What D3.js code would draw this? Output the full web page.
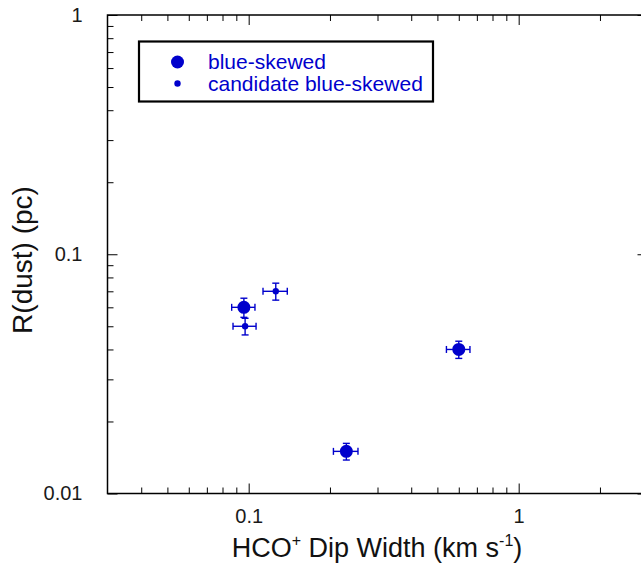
<!DOCTYPE html>
<html><head><meta charset="utf-8">
<script src="https://cdn.jsdelivr.net/npm/d3@7"></script>
<style>
html,body{margin:0;padding:0;background:#fff;}
svg{display:block;font-family:Arial,"Liberation Sans",sans-serif;}
</style></head>
<body>
<svg id="chart" width="641" height="574"></svg>
<script>
// ---- data ----
const sourceKind = ["blue-skewed","blue-skewed","blue-skewed","candidate blue-skewed","candidate blue-skewed"];
const dipWidth   = [0.096, 0.23, 0.60, 0.097, 0.126];   // km s^-1
const dipWidthErr= [0.0095, 0.024, 0.06, 0.0095, 0.013];
const rDust      = [0.060, 0.015, 0.040, 0.050, 0.070]; // pc
const rDustErr   = [0.0055, 0.0012, 0.0033, 0.004, 0.0057];
const legendLabels = ["blue-skewed","candidate blue-skewed"];
const xTickLabels = [0.1, 1];
const yTickLabels = [0.01, 0.1, 1];
const xMinorTicks = [0.04,0.05,0.06,0.07,0.08,0.09,0.2,0.3,0.4,0.5,0.6,0.7,0.8,0.9,2,3];
const yMinorTicks = [0.02,0.03,0.04,0.05,0.06,0.07,0.08,0.09,0.2,0.3,0.4,0.5,0.6,0.7,0.8,0.9];

// ---- layout ----
const L = 107.5, T = 15, R = 647.5, B = 493.5;
const blue = "#0000cc";
const svg = d3.select("#chart");
const x = d3.scaleLog().domain([0.03, 3]).range([L, R]);
const y = d3.scaleLog().domain([0.01, 1]).range([B, T]);

const pts = sourceKind.map((k,i)=>({k, x:dipWidth[i], xe:dipWidthErr[i], y:rDust[i], ye:rDustErr[i]}));

// frame
svg.append("rect").attr("x",L).attr("y",T).attr("width",R-L).attr("height",B-T)
  .attr("fill","none").attr("stroke","#000").attr("stroke-width",1.5);

// axes (ticks inward)
const major = 10, minor = 6;
function addAxis(gen, tx, ty){ return svg.append("g").attr("transform",`translate(${tx},${ty})`).call(gen); }
const style = g => { g.select(".domain").remove(); g.selectAll(".tick line").attr("stroke","#000").attr("stroke-width",1); };

// bottom
addAxis(d3.axisBottom(x).tickValues(xTickLabels).tickSize(-major).tickPadding(18).tickFormat(d3.format("")),0,B)
  .call(style).call(g=>g.selectAll("text").attr("font-size",20).attr("fill","#1a1a1a").attr("dy","0.55em"));
addAxis(d3.axisBottom(x).tickValues(xMinorTicks).tickSize(-minor).tickFormat(""),0,B).call(style);
// top
addAxis(d3.axisTop(x).tickValues(xTickLabels).tickSize(-major).tickFormat(""),0,T).call(style);
addAxis(d3.axisTop(x).tickValues(xMinorTicks).tickSize(-minor).tickFormat(""),0,T).call(style);
// left
addAxis(d3.axisLeft(y).tickValues(yTickLabels).tickSize(-major).tickPadding(25).tickFormat(d3.format("")),L,0)
  .call(style).call(g=>g.selectAll("text").attr("font-size",20).attr("fill","#1a1a1a"));
addAxis(d3.axisLeft(y).tickValues(yMinorTicks).tickSize(-minor).tickFormat(""),L,0).call(style);
// right
addAxis(d3.axisRight(y).tickValues(yTickLabels).tickSize(-major).tickFormat(""),R,0).call(style);
addAxis(d3.axisRight(y).tickValues(yMinorTicks).tickSize(-minor).tickFormat(""),R,0).call(style);

// axis titles
const xt = svg.append("text").attr("x",377).attr("y",557).attr("text-anchor","middle")
  .attr("font-size",27).attr("fill","#111");
xt.append("tspan").text("HCO");
xt.append("tspan").text("+").attr("font-size",16).attr("dy",-11);
xt.append("tspan").text(" Dip Width (km s").attr("dy",11);
xt.append("tspan").text("-1").attr("font-size",16).attr("dy",-11);
xt.append("tspan").text(")").attr("dy",11);

svg.append("text").attr("transform","translate(32,260) rotate(-90)").attr("text-anchor","middle")
  .attr("font-size",28).attr("fill","#111").text("R(dust) (pc)");

// error bars
const cap = 3.5;
const eb = svg.append("g").attr("stroke",blue).attr("stroke-width",1.4).attr("fill","none");
pts.forEach(p=>{
  const cx=x(p.x), cy=y(p.y), x0=x(p.x-p.xe), x1=x(p.x+p.xe), y0=y(p.y-p.ye), y1=y(p.y+p.ye);
  eb.append("line").attr("x1",x0).attr("x2",x1).attr("y1",cy).attr("y2",cy);
  eb.append("line").attr("x1",x0).attr("x2",x0).attr("y1",cy-cap).attr("y2",cy+cap);
  eb.append("line").attr("x1",x1).attr("x2",x1).attr("y1",cy-cap).attr("y2",cy+cap);
  eb.append("line").attr("x1",cx).attr("x2",cx).attr("y1",y0).attr("y2",y1);
  eb.append("line").attr("x1",cx-cap).attr("x2",cx+cap).attr("y1",y0).attr("y2",y0);
  eb.append("line").attr("x1",cx-cap).attr("x2",cx+cap).attr("y1",y1).attr("y2",y1);
});
const radius = k => k===legendLabels[0] ? 6.5 : 3.2;
svg.append("g").selectAll("circle").data(pts).join("circle")
  .attr("cx",d=>x(d.x)).attr("cy",d=>y(d.y)).attr("r",d=>radius(d.k)).attr("fill",blue);

// legend
svg.append("rect").attr("x",139).attr("y",41.5).attr("width",294).attr("height",60)
  .attr("fill","#fff").attr("stroke","#000").attr("stroke-width",2.2);
legendLabels.forEach((lab,i)=>{
  const ly = 62 + i*21.5;
  svg.append("circle").attr("cx",177.5).attr("cy",ly).attr("r",radius(lab)).attr("fill",blue);
  svg.append("text").attr("x",208).attr("y",ly).attr("dy","0.35em").attr("font-size",21)
    .attr("fill",blue).text(lab);
});
</script>
</body></html>
